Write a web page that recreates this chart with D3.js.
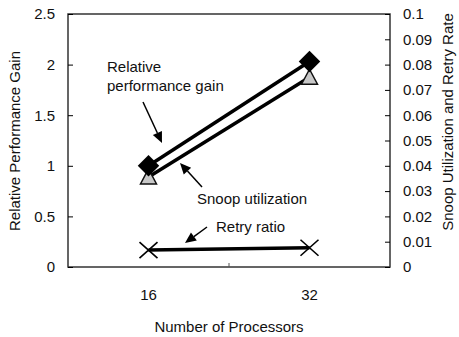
<!DOCTYPE html>
<html>
<head>
<meta charset="utf-8">
<script src="https://cdn.jsdelivr.net/npm/d3@7"></script>
<style>
  body { margin: 0; background: #fff; }
  text { font-family: "Liberation Sans", Arial, sans-serif; fill: #111; }
</style>
</head>
<body>
<svg id="chart"></svg>
<script>
// Chart size
const width = 459, height = 337;
const svg = d3.select("#chart").attr("width", width).attr("height", height);

// Data
const processors = ["16", "32"];
const perfGain = [1.0, 2.03];          // left axis
const snoopUtil = [0.0356, 0.075];     // right axis
const retryRatio = [0.0067, 0.0076];   // right axis
const leftTicks = [0, 0.5, 1, 1.5, 2, 2.5];
const rightTicks = [0, 0.01, 0.02, 0.03, 0.04, 0.05, 0.06, 0.07, 0.08, 0.09, 0.1];

// Plot box
const plotL = 68, plotR = 390, plotT = 14, plotB = 267;

const x = d3.scaleBand().domain(processors).range([plotL, plotR]).paddingInner(0).paddingOuter(0);
const yL = d3.scaleLinear().domain([0, 2.5]).range([plotB, plotT]);
const yR = d3.scaleLinear().domain([0, 0.1]).range([plotB, plotT]);
const cx = d => x(d) + x.bandwidth() / 2;

// Frame
svg.append("rect")
  .attr("x", plotL).attr("y", plotT)
  .attr("width", plotR - plotL).attr("height", plotB - plotT)
  .attr("fill", "none").attr("stroke", "#333").attr("stroke-width", 1.5);

// Left axis, ticks point inward
const axL = svg.append("g").attr("transform", `translate(${plotL},0)`)
  .call(d3.axisLeft(yL).tickValues(leftTicks).tickSizeInner(-5).tickSizeOuter(0).tickPadding(13)
    .tickFormat(d3.format("~g")));
axL.select(".domain").remove();
axL.selectAll("text").style("font-size", "15px");

// Right axis
const axR = svg.append("g").attr("transform", `translate(${plotR},0)`)
  .call(d3.axisRight(yR).tickValues(rightTicks).tickSizeInner(-5).tickSizeOuter(0).tickPadding(13)
    .tickFormat(d3.format("~g")));
axR.select(".domain").remove();
axR.selectAll("text").style("font-size", "15px");

// Bottom axis: labels at band centres, one tick between categories
const axB = svg.append("g").attr("transform", `translate(0,${plotB})`)
  .call(d3.axisBottom(x).tickSize(0).tickPadding(22));
axB.select(".domain").remove();
axB.selectAll("text").style("font-size", "15px");
svg.append("line")
  .attr("x1", x("32")).attr("x2", x("32"))
  .attr("y1", plotB).attr("y2", plotB - 4)
  .attr("stroke", "#555").attr("stroke-width", 1);

// Axis titles
svg.append("text").attr("transform", "translate(20,141) rotate(-90)")
  .attr("text-anchor", "middle").style("font-size", "15px").text("Relative Performance Gain");
svg.append("text").attr("transform", "translate(453,122) rotate(-90)")
  .attr("text-anchor", "middle").style("font-size", "15px").text("Snoop Utilization and Retry Rate");
svg.append("text").attr("x", 229).attr("y", 332)
  .attr("text-anchor", "middle").style("font-size", "15px").text("Number of Processors");

// Lines
const lineL = d3.line().x((d, i) => cx(processors[i])).y(d => yL(d));
const lineR = d3.line().x((d, i) => cx(processors[i])).y(d => yR(d));

svg.append("path").attr("d", lineR(snoopUtil))
  .attr("fill", "none").attr("stroke", "#000").attr("stroke-width", 3.5);
svg.append("path").attr("d", lineL(perfGain))
  .attr("fill", "none").attr("stroke", "#000").attr("stroke-width", 3.5);
svg.append("path").attr("d", lineR(retryRatio))
  .attr("fill", "none").attr("stroke", "#000").attr("stroke-width", 3.5);

// Triangles (snoop utilization)
svg.selectAll(".tri").data(snoopUtil).join("path")
  .attr("class", "tri")
  .attr("transform", (d, i) => `translate(${cx(processors[i])},${yR(d)})`)
  .attr("d", "M0,-8L8,7L-8,7Z")
  .attr("fill", "#c8c8c8").attr("stroke", "#111").attr("stroke-width", 1.5);

// Diamonds (relative performance gain)
svg.selectAll(".dia").data(perfGain).join("path")
  .attr("class", "dia")
  .attr("transform", (d, i) => `translate(${cx(processors[i])},${yL(d)}) rotate(45)`)
  .attr("d", d3.symbol(d3.symbolSquare, 230)())
  .attr("fill", "#000");

// Crosses (retry ratio)
svg.selectAll(".cross").data(retryRatio).join("path")
  .attr("class", "cross")
  .attr("transform", (d, i) => `translate(${cx(processors[i])},${yR(d)})`)
  .attr("d", "M-9,-8L9,8M-9,8L9,-8")
  .attr("stroke", "#000").attr("stroke-width", 1.6).attr("fill", "none");

// Annotations with arrows
function arrow(x1, y1, x2, y2) {
  const a = Math.atan2(y2 - y1, x2 - x1);
  const len = 11, half = 5;
  const bx = x2 - len * Math.cos(a), by = y2 - len * Math.sin(a);
  svg.append("line").attr("x1", x1).attr("y1", y1).attr("x2", bx).attr("y2", by)
    .attr("stroke", "#000").attr("stroke-width", 1.5);
  svg.append("path")
    .attr("d", `M${x2},${y2}L${bx - half * Math.sin(a)},${by + half * Math.cos(a)}L${bx + half * Math.sin(a)},${by - half * Math.cos(a)}Z`)
    .attr("fill", "#000");
}

const label = (tx, ty, s) => svg.append("text").attr("x", tx).attr("y", ty).style("font-size", "15px").text(s);
label(107, 72, "Relative");
label(107, 91, "performance gain");
arrow(143, 102, 162, 143);
label(197, 204, "Snoop utilization");
arrow(202, 187, 180, 163);
label(216, 232, "Retry ratio");
arrow(207, 227, 185, 243);
</script>
</body>
</html>
